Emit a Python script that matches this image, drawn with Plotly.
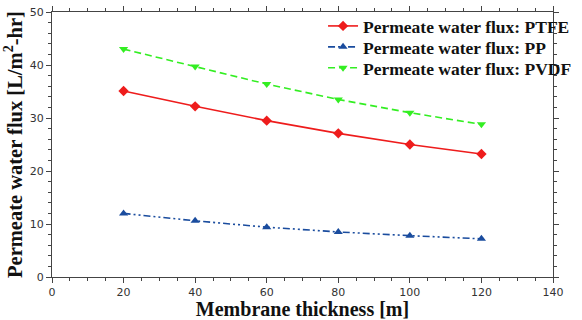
import plotly.graph_objects as go

thickness = [20, 40, 60, 80, 100, 120]
flux_ptfe = [35.1, 32.2, 29.5, 27.1, 25.0, 23.2]
flux_pp = [12.0, 10.6, 9.4, 8.5, 7.8, 7.2]
flux_pvdf = [43.0, 39.7, 36.4, 33.5, 31.0, 28.8]
names = ["Permeate water flux: PTFE", "Permeate water flux: PP", "Permeate water flux: PVDF"]

fig = go.Figure()
fig.add_trace(go.Scatter(x=thickness, y=flux_ptfe, name=names[0], mode="lines+markers",
                         line=dict(color="#ee1c1c", width=1.6),
                         marker=dict(symbol="diamond", size=8, color="#ee1c1c"),
                         legend="legend", showlegend=True))
fig.add_trace(go.Scatter(x=thickness, y=flux_pp, name=names[1], mode="lines+markers",
                         line=dict(color="#1a4c9e", width=1.6, dash="7px,3px,2px,3px,2px,3px"),
                         marker=dict(symbol="triangle-up", size=8, color="#1a4c9e"),
                         legend="legend2", showlegend=True))
fig.add_trace(go.Scatter(x=thickness, y=flux_pvdf, name=names[2], mode="lines+markers",
                         line=dict(color="#33ee22", width=1.6, dash="7px,4px"),
                         marker=dict(symbol="triangle-down", size=8, color="#33ee22"),
                         legend="legend3", showlegend=True))

axis_common = dict(showline=True, linecolor="#444", linewidth=1, mirror="allticks",
                   ticks="outside", ticklen=5, tickcolor="#444", showgrid=False, zeroline=False,
                   automargin=False,
                   tickfont=dict(family="DejaVu Sans", size=11, color="#333"))

fig.update_xaxes(range=[0, 140], dtick=20, tick0=0,
                 minor=dict(dtick=5, ticks="outside", ticklen=3, tickcolor="#444"),
                 title=dict(text="Membrane thickness [m]", standoff=6,
                            font=dict(family="Liberation Serif", size=20, color="#111", weight="bold")),
                 **axis_common)
fig.update_yaxes(range=[0, 50], dtick=10, tick0=0,
                 minor=dict(dtick=2, ticks="outside", ticklen=3, tickcolor="#444"),
                 title=dict(text="Permeate water flux [L/m<sup>2</sup>-hr]", standoff=6,
                            font=dict(family="Liberation Serif", size=20.5, color="#111", weight="bold")),
                 **axis_common)

leg_common = dict(x=0.541, xanchor="left", yanchor="middle", bgcolor="rgba(0,0,0,0)",
                  itemwidth=30, visible=True,
                  font=dict(family="Liberation Serif", size=17.5, color="#111", weight="bold"))

fig.update_layout(
    width=582, height=320,
    margin=dict(l=52, r=29, t=12, b=43, autoexpand=False),
    plot_bgcolor="white", paper_bgcolor="white",
    font=dict(family="Liberation Serif"),
    showlegend=True,
    legend=dict(y=0.947, **leg_common),
    legend2=dict(y=0.868, **leg_common),
    legend3=dict(y=0.789, **leg_common),
)

fig.write_html("out.html")
